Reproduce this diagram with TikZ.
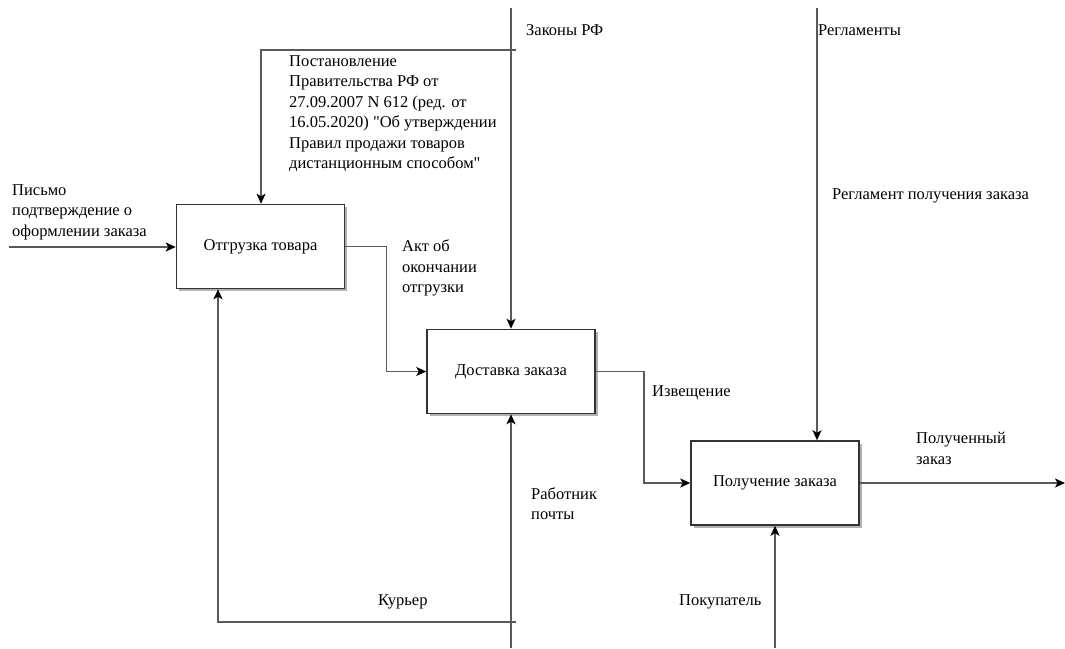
\documentclass[tikz,border=0pt]{standalone}
\usepackage{fontspec}
\newfontfamily\diagfont{LiberationSerif}[Extension=.ttf,UprightFont=*-Regular]
\usetikzlibrary{arrows.meta,shadows}
\begin{document}
\begin{tikzpicture}[x=1pt,y=-1pt,
  font=\diagfont\fontsize{16.5}{20.5}\selectfont,
  func/.style={draw=black!80, line width=1.5pt, fill=white,
    minimum width=168pt, minimum height=84pt, inner sep=0pt,
    drop shadow={shadow xshift=2.5pt, shadow yshift=-2.5pt, fill=black!30, opacity=1}},
  flow/.style={draw=black!65, line width=1.5pt,
    -{Stealth[length=10pt,width=9pt,inset=2.5pt,color=black]}},
  lbl/.style={inner sep=0pt, align=left, anchor=west}]
\useasboundingbox (0,0) rectangle (1065,648);

% activity boxes
\node[func] (b1) at (260.5,246.5) {Отгрузка товара};
\node[func] (b2) at (511,371.5) {Доставка заказа};
\node[func] (b3) at (775,483) {Получение заказа};

% free ends of the boundary arrows
\coordinate (lawTop) at (511,8);
\coordinate (regTop) at (817,8);
\coordinate (inL) at (9,247);
\coordinate (outR) at (1065,483);
\coordinate (postBot) at (511,648);
\coordinate (buyBot) at (775,648);
\coordinate (ctlTee) at (516,50);
\coordinate (ctlCorner) at (261,50);
\coordinate (mechTee) at (516,622);
\coordinate (mechCorner) at (218,622);

% controls
\draw[flow] (lawTop) -- (b2.north);
\draw[flow] (ctlTee) -- (ctlCorner) -- (ctlCorner |- b1.north);
\draw[flow] (regTop) -- (regTop |- b3.north);

% inputs and outputs
\draw[flow] (inL) -- (inL -| b1.west);
\draw[flow] (b1.east) -- ++(41,0) |- (b2.west);
\draw[flow] (b2.east) -- ++(48,0) |- (b3.west);
\draw[flow] (b3.east) -- (outR);

% mechanisms
\draw[flow] (postBot) -- (b2.south);
\draw[flow] (mechTee) -- (mechCorner) -- (mechCorner |- b1.south);
\draw[flow] (buyBot) -- (b3.south);

% arrow labels
\node[lbl] (tLaw) at (526,30) {Законы РФ};
\node[lbl] (tReg) at (818,30) {Регламенты};
\node[lbl] (tRegGet) at (832,196) {Регламент получения заказа};
\node[lbl] (tDecree) at (289,113.5) {Постановление\\Правительства РФ от\\27.09.2007 N 612 (ред. от\\16.05.2020) "Об утверждении\\Правил продажи товаров\\дистанционным способом"};
\node[lbl] (tIn) at (12,212) {Письмо\\подтверждение о\\оформлении заказа};
\node[lbl] (tAct) at (402,268) {Акт об\\окончании\\отгрузки};
\node[lbl] (tNote) at (652,393) {Извещение};
\node[lbl] (tGot) at (916,448.5) {Полученный\\заказ};
\node[lbl] (tWorker) at (531,503.5) {Работник\\почты};
\node[lbl] (tBuyer) at (679,602) {Покупатель};
\node[lbl] (tCourier) at (378,602) {Курьер};
\end{tikzpicture}
\end{document}
